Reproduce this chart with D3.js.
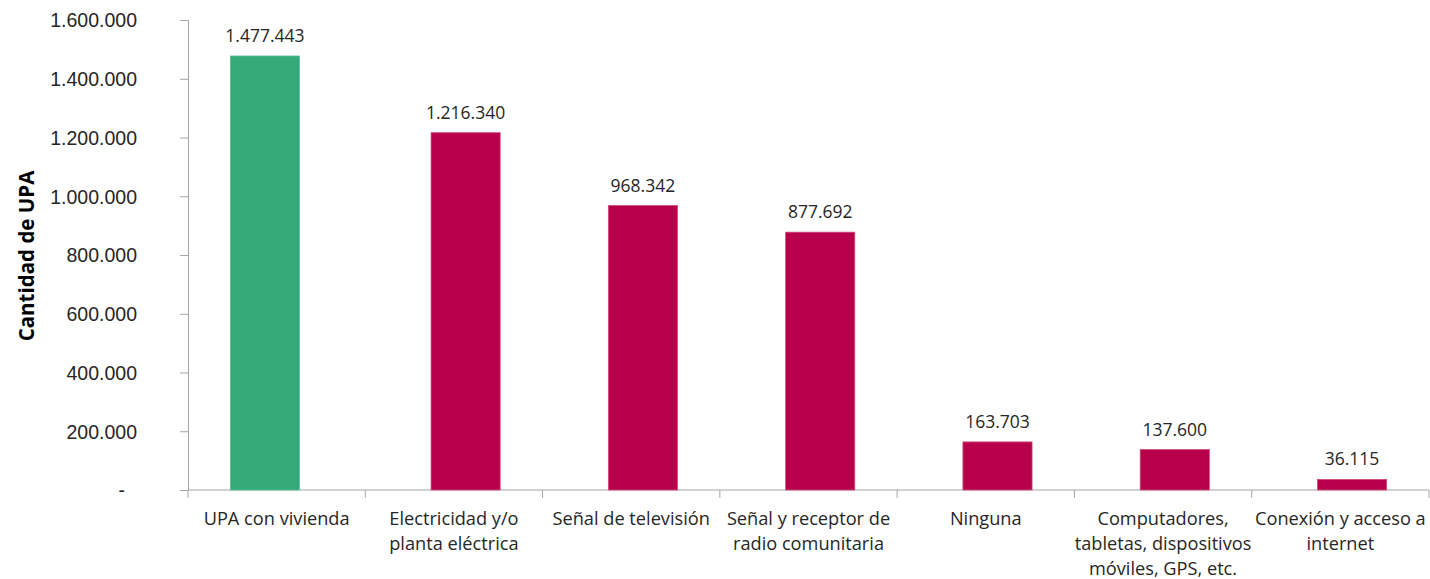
<!DOCTYPE html>
<html>
<head>
<meta charset="utf-8">
<script src="https://cdn.jsdelivr.net/npm/d3@7"></script>
<style>
  body { margin: 0; background: #fff; }
  svg { display: block; font-family: "Open Sans", "Noto Sans", sans-serif; }
  .axis path, .axis line { stroke: #a6a6a6; }
  .axis text { fill: #262626; }
</style>
</head>
<body>
<script>
// categories (line breaks as in the original labels)
const categories = [
  "UPA con vivienda",
  "Electricidad y/o\nplanta eléctrica",
  "Señal de televisión",
  "Señal y receptor de\nradio comunitaria",
  "Ninguna",
  "Computadores,\ntabletas, dispositivos\nmóviles, GPS, etc.",
  "Conexión y acceso a\ninternet"
];
// two series: the green one only has the first category
const vivienda = [1477443, null, null, null, null, null, null];
const servicios = [null, 1216340, 968342, 877692, 163703, 137600, 36115];
const yTicks = [0, 200000, 400000, 600000, 800000, 1000000, 1200000, 1400000, 1600000];
const yTitle = "Cantidad de UPA";

const width = 1430, height = 579;
const margin = { top: 20, right: 1, bottom: 89, left: 188 };

const es = d3.formatLocale({ decimal: ",", thousands: ".", grouping: [3], currency: ["$", ""] });
const fmt = es.format(",d");

const svg = d3.select("body").append("svg")
  .attr("width", width)
  .attr("height", height);

const x = d3.scaleBand()
  .domain(categories)
  .range([margin.left, width - margin.right])
  .padding(0);

const y = d3.scaleLinear()
  .domain([0, 1600000])
  .range([height - margin.bottom, margin.top]);

const bw = x.bandwidth();
const barW = bw * 0.39;
const seriesList = [
  { name: "vivienda", values: vivienda, color: "#36a978", edge: "#5cc096", off: -bw * 0.066 },
  { name: "servicios", values: servicios, color: "#b8004a", edge: "#cf4a7d", off: bw * 0.066 }
];

// y axis
const yAxis = svg.append("g")
  .attr("class", "axis")
  .attr("transform", `translate(${margin.left},0)`)
  .call(d3.axisLeft(y).tickValues(yTicks).tickSize(8).tickPadding(43)
    .tickFormat(d => d === 0 ? "-" : fmt(d)));
yAxis.selectAll("text")
  .style("font-size", "19.5px")
  .attr("dy", "0.35em")
  .attr("dx", d => d === 0 ? -12 : 0);

// x axis
const xAxis = svg.append("g")
  .attr("class", "axis")
  .attr("transform", `translate(0,${y(0)})`)
  .call(d3.axisBottom(x).tickSize(0).tickFormat(""));
xAxis.select(".domain").attr("d", `M${margin.left},0H${width - margin.right}`);

// category separators
svg.append("g")
  .selectAll("line")
  .data(d3.range(categories.length + 1))
  .join("line")
  .attr("x1", i => margin.left + i * bw)
  .attr("x2", i => margin.left + i * bw)
  .attr("y1", y(0))
  .attr("y2", y(0) + 8)
  .attr("stroke", "#a6a6a6");

// category labels
const lab = svg.append("g")
  .selectAll("text")
  .data(categories)
  .join("text")
  .attr("x", d => x(d) + bw / 2)
  .attr("y", y(0) + 34.5)
  .attr("text-anchor", "middle")
  .style("font-size", "18.2px")
  .attr("fill", "#262626");
lab.selectAll("tspan")
  .data(d => d.split("\n"))
  .join("tspan")
  .attr("x", function () { return this.parentNode.getAttribute("x"); })
  .attr("dy", (d, i) => i === 0 ? 0 : 25)
  .text(d => d);

// bars + labels
seriesList.forEach(s => {
  const data = categories.map((c, i) => ({ c, v: s.values[i] })).filter(d => d.v != null);
  svg.append("g")
    .selectAll("rect")
    .data(data)
    .join("rect")
    .attr("x", d => x(d.c) + bw / 2 + s.off - barW / 2)
    .attr("y", d => y(d.v))
    .attr("width", barW)
    .attr("height", d => y(0) - y(d.v))
    .attr("fill", s.color)
    .attr("stroke", s.edge)
    .attr("stroke-width", 0.8);

  svg.append("g")
    .selectAll("text")
    .data(data)
    .join("text")
    .attr("x", d => x(d.c) + bw / 2 + s.off)
    .attr("y", d => y(d.v) - 14)
    .attr("text-anchor", "middle")
    .style("font-size", "17.5px")
    .attr("fill", "#262626")
    .text(d => fmt(d.v));
});

// y title
svg.append("text")
  .attr("transform", `translate(34,256) rotate(-90)`)
  .attr("text-anchor", "middle")
  .style("font-size", "20.5px")
  .style("font-weight", "bold")
  .attr("fill", "#000")
  .text(yTitle);
</script>
</body>
</html>
